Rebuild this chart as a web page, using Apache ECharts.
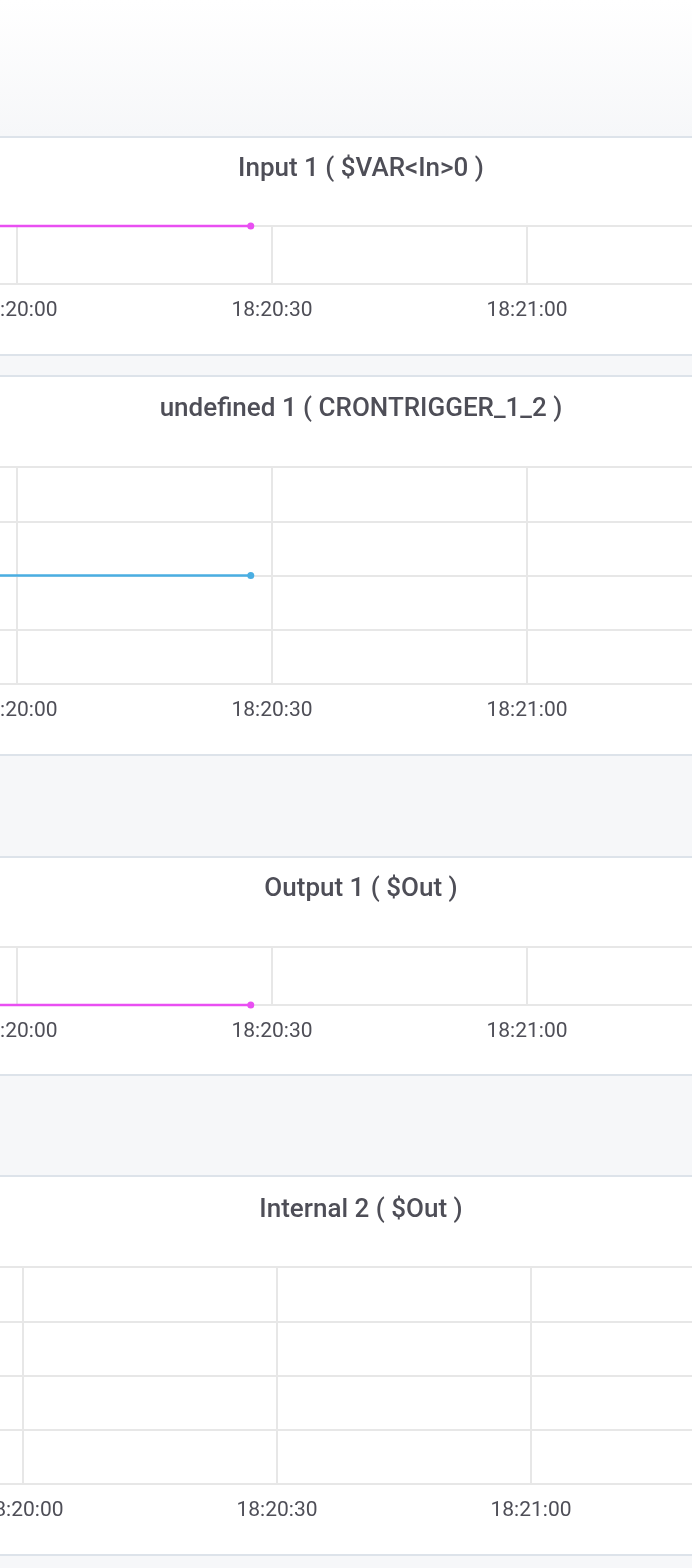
<!DOCTYPE html>
<html>
<head>
<meta charset="utf-8">
<script src="https://cdn.jsdelivr.net/npm/echarts@6/dist/echarts.min.js"></script>
<style>
  html, body { margin: 0; padding: 0; }
  body { width: 692px; height: 1568px; overflow: hidden; position: relative; background: #f6f7f9; font-family: Roboto, sans-serif; }
  .topband { position: absolute; left: 0; top: 0; width: 692px; height: 136px; background: linear-gradient(#ffffff, #f6f7f9); }
  .panel { position: absolute; left: 0; width: 692px; box-sizing: border-box; background: #ffffff; border-top: 2px solid #dde3ea; border-bottom: 2px solid #dde3ea; }
  #chart { position: absolute; left: -300px; top: 0; width: 1322px; height: 1568px; }
</style>
</head>
<body>
<div class="topband"></div>
<div class="panel" style="top:136px;height:220px"></div>
<div class="panel" style="top:375px;height:381px"></div>
<div class="panel" style="top:856px;height:220px"></div>
<div class="panel" style="top:1175px;height:381px"></div>
<div id="chart"></div>
<script>
// ---- data ----
const panelTitles = ['Input 1 ( $VAR<In>0 )', 'undefined 1 ( CRONTRIGGER_1_2 )', 'Output 1 ( $Out )', 'Internal 2 ( $Out )'];
const xTickLabels = ['18:19:30', '18:20:00', '18:20:30', '18:21:00', '18:21:30'];

const input1Times = ['18:19:45', '18:20:27.5'];
const input1Values = [1, 1];

const cronTimes = ['18:19:45', '18:20:27.5'];
const cronValues = [0, 0];

const output1Times = ['18:19:45', '18:20:27.5'];
const output1Values = [0, 0];

const internal2Times = [];
const internal2Values = [];

const yRanges = [[0, 1, 1], [-1, 1, 0.5], [0, 1, 1], [0, 1, 0.25]];

// ---- helpers ----
function sec(t) {
  const p = t.split(':').map(Number);
  return p[0] * 3600 + p[1] * 60 + p[2];
}
function fmt(v) {
  const h = Math.floor(v / 3600), m = Math.floor((v % 3600) / 60), s = Math.round(v % 60);
  const pad = n => String(n).padStart(2, '0');
  return pad(h) + ':' + pad(m) + ':' + pad(s);
}
function seriesData(times, values) {
  return times.map((t, i) => ({
    value: [sec(t), values[i]],
    symbolSize: i === times.length - 1 ? 7 : 0
  }));
}

const xMin = sec(xTickLabels[0]);
const xMax = sec(xTickLabels[xTickLabels.length - 1]);

const layout = [
  { titleTop: 156, gridTop: 226, gridH: 58, left: 62, right: 240 },
  { titleTop: 396, gridTop: 467, gridH: 217, left: 62, right: 240 },
  { titleTop: 876, gridTop: 947, gridH: 58, left: 62, right: 240 },
  { titleTop: 1197, gridTop: 1267, gridH: 217, left: 69, right: 237 }
];

const textColor = '#4e4e57';
const gridColor = '#e7e7e7';

const seriesDefs = [
  { times: input1Times, values: input1Values, color: '#e94ff2' },
  { times: cronTimes, values: cronValues, color: '#4aaee2' },
  { times: output1Times, values: output1Values, color: '#e94ff2' },
  { times: internal2Times, values: internal2Values, color: '#4aaee2' }
];

const option = {
  animation: false,
  backgroundColor: 'transparent',
  title: panelTitles.map((t, i) => ({
    text: t,
    left: 'center',
    top: layout[i].titleTop,
    padding: 0,
    textStyle: { fontFamily: 'Roboto', fontSize: 26, fontWeight: 500, color: textColor }
  })),
  grid: layout.map(l => ({ left: l.left, right: l.right, top: l.gridTop, height: l.gridH, containLabel: false })),
  xAxis: layout.map((l, i) => ({
    type: 'value',
    gridIndex: i,
    min: xMin,
    max: xMax,
    interval: 30,
    axisLine: { show: false },
    axisTick: { show: false },
    splitLine: { show: true, lineStyle: { color: gridColor, width: 2 } },
    axisLabel: {
      show: true,
      margin: 16,
      fontFamily: 'Roboto',
      fontSize: 21,
      color: textColor,
      formatter: v => fmt(v)
    }
  })),
  yAxis: layout.map((l, i) => ({
    type: 'value',
    gridIndex: i,
    min: yRanges[i][0],
    max: yRanges[i][1],
    interval: yRanges[i][2],
    axisLine: { show: false },
    axisTick: { show: false },
    axisLabel: { show: false },
    splitLine: { show: true, lineStyle: { color: gridColor, width: 2 } }
  })),
  series: seriesDefs.map((d, i) => ({
    type: 'line',
    xAxisIndex: i,
    yAxisIndex: i,
    data: seriesData(d.times, d.values),
    showSymbol: true,
    symbol: 'circle',
    clip: false,
    lineStyle: { color: d.color, width: 2.5 },
    itemStyle: { color: d.color },
    emphasis: { disabled: true }
  }))
};

const chart = echarts.init(document.getElementById('chart'), null, { renderer: 'canvas' });
chart.setOption(option);
</script>
</body>
</html>
